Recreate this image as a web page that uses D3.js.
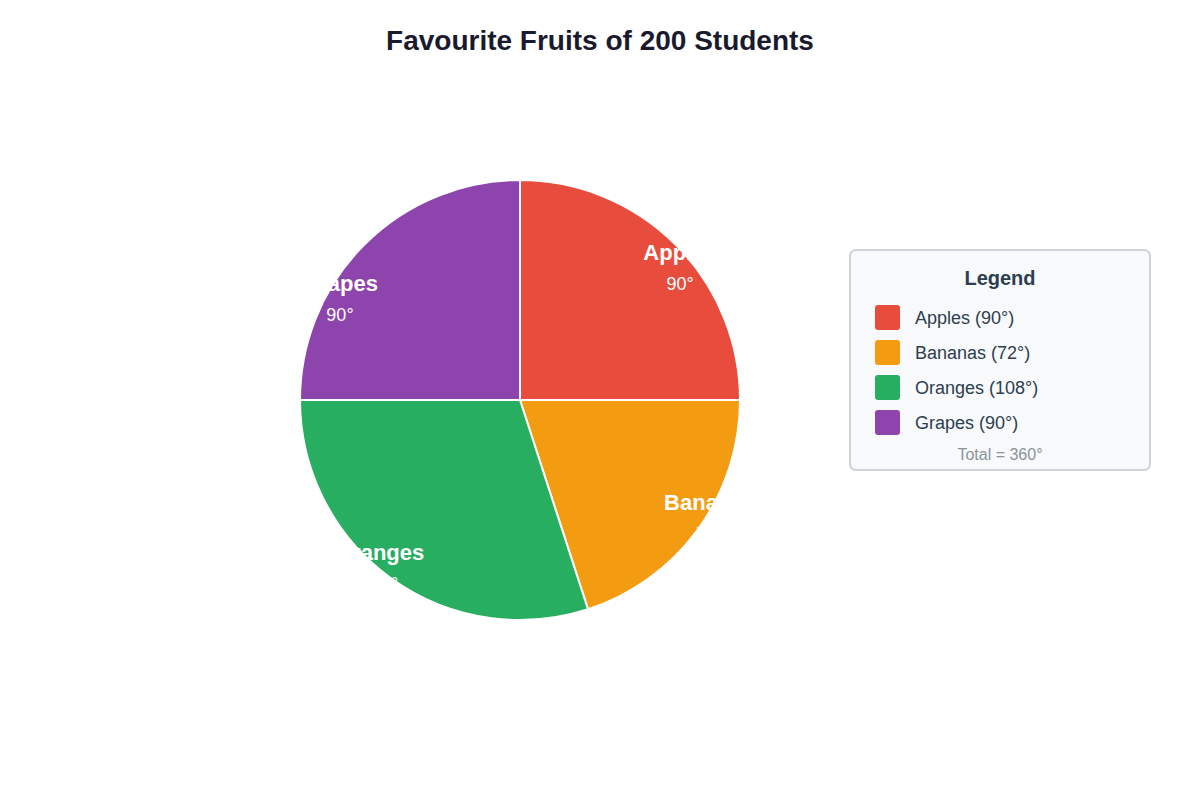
<!DOCTYPE html>
<html><head><meta charset="utf-8">
<script src="https://cdn.jsdelivr.net/npm/d3@7/dist/d3.min.js"></script>
<style>body{margin:0;background:#fff;font-family:"Liberation Sans",Arial,sans-serif}</style>
</head><body><svg id="c" width="1200" height="800"></svg>
<script>
const categories = ["Apples","Bananas","Oranges","Grapes"];
const degrees = [90,72,108,90];
const colors = ["#e74c3c","#f39c12","#27ae60","#8e44ad"];
const titleText = "Favourite Fruits of 200 Students";

const svg = d3.select("#c");
const W = 1200, H = 800;
const cx = 520, cy = 400, R = 220;
// label placement tweaks (layout, not data)
const labelR = 215;
const labelShift = [[8,19],[16,-9],[-14,-7],[-28,50]];

svg.append("rect").attr("width",W).attr("height",H).attr("fill","#fff");
svg.append("text").attr("x",600).attr("y",50).attr("text-anchor","middle")
  .attr("font-size",28).attr("font-weight","bold").attr("fill","#1a1a2e").text(titleText);

const data = categories.map((c,i)=>({name:c,value:degrees[i],color:colors[i],i}));
const pie = d3.pie().value(d=>d.value).sort(null);
const arcs = pie(data);
const arc = d3.arc().innerRadius(0).outerRadius(R);
const labelArc = d3.arc().innerRadius(labelR).outerRadius(labelR);
const g = svg.append("g").attr("transform",`translate(${cx},${cy})`);
g.selectAll("path").data(arcs).join("path").attr("d",arc)
  .attr("fill",d=>d.data.color).attr("stroke","#fff").attr("stroke-width",2);

const lg = g.selectAll("g.lbl").data(arcs).join("g").attr("class","lbl")
  .attr("transform",d=>{const [x,y]=labelArc.centroid(d);const s=labelShift[d.data.i];return `translate(${x+s[0]},${y+s[1]})`;});
lg.append("text").attr("text-anchor","middle").attr("y",-7).attr("font-size",22)
  .attr("font-weight","bold").attr("fill","#fff").text(d=>d.data.name);
lg.append("text").attr("text-anchor","middle").attr("y",23).attr("font-size",18)
  .attr("fill","#fff").text(d=>d.data.value+"°");

// legend
const L = svg.append("g").attr("transform","translate(850,250)");
L.append("rect").attr("width",300).attr("height",220).attr("rx",6)
  .attr("fill","#f8f9fa").attr("stroke","#cfd3d6").attr("stroke-width",2);
L.append("text").attr("x",150).attr("y",35).attr("text-anchor","middle").attr("font-size",20)
  .attr("font-weight","bold").attr("fill","#2c3e50").text("Legend");
const items = L.selectAll("g.it").data(data).join("g").attr("class","it")
  .attr("transform",(d,i)=>`translate(25,${55+i*35})`);
items.append("rect").attr("width",25).attr("height",25).attr("rx",3).attr("fill",d=>d.color);
items.append("text").attr("x",40).attr("y",19).attr("font-size",18).attr("fill","#2c3e50")
  .text(d=>`${d.name} (${d.value}°)`);
L.append("text").attr("x",150).attr("y",210).attr("text-anchor","middle").attr("font-size",16)
  .attr("fill","#8a9499").text(`Total = ${d3.sum(degrees)}°`);
</script></body></html>
